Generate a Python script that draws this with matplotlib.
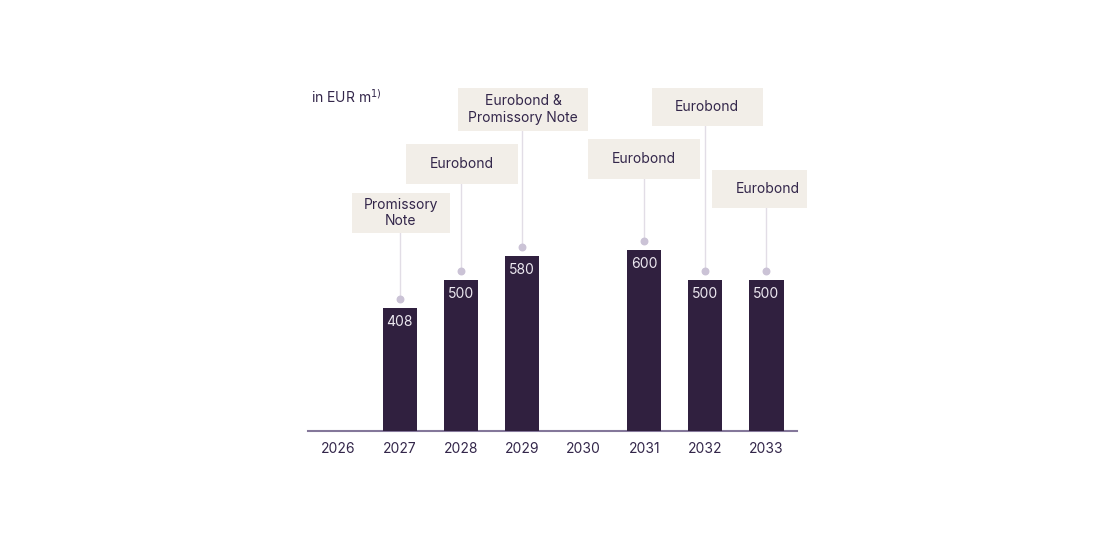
import matplotlib
matplotlib.use("Agg")
import matplotlib.pyplot as plt
from matplotlib.patches import Rectangle

years = ["2026", "2027", "2028", "2029", "2030", "2031", "2032", "2033"]
values = [0, 408, 500, 580, 0, 600, 500, 500]
instruments = ["", "Promissory\nNote", "Eurobond", "Eurobond &\nPromissory Note", "",
               "Eurobond", "Eurobond", "Eurobond"]
unit_label = "in EUR m$^{1)}$"

# layout: label boxes in pixel coordinates (left, top, right, bottom), top-left origin
box_px = {1: (352, 193, 450, 233), 2: (406, 144, 518, 184), 3: (458, 88, 588, 131),
          5: (588, 139, 700, 179), 6: (652, 88, 763, 126), 7: (712, 170, 807, 208)}
text_cx = {1: 401, 2: 462, 3: 523, 5: 644, 6: 707, 7: 768}

W, H = 1120, 560
plt.rcParams['font.family'] = ['Inter', 'DejaVu Sans']
fig = plt.figure(figsize=(W / 100, H / 100), dpi=100)
fig.patch.set_facecolor("white")

ax_left, ax_right, base_y = 308, 797, 431
px_per_unit = 0.3015
ymax = 1100
ax_top = base_y - ymax * px_per_unit
ax = fig.add_axes([ax_left / W, (H - base_y) / H, (ax_right - ax_left) / W, (base_y - ax_top) / H])
ax.set_xlim(-0.5, 7.5)
ax.set_ylim(0, ymax)
ax.patch.set_alpha(0)

bar_color = "#30203f"
text_color = "#33264a"
x = list(range(len(years)))
ax.bar(x, values, width=0.56, color=bar_color, zorder=3)

for s in ["top", "right", "left"]:
    ax.spines[s].set_visible(False)
ax.spines["bottom"].set_color("#84779a")
ax.spines["bottom"].set_linewidth(1.5)
ax.set_yticks([])
ax.set_xticks(x)
ax.set_xticklabels(years, fontsize=10, color=text_color)
ax.tick_params(axis="x", length=0, pad=8)

def px2fig(px, py):
    return px / W, (H - py) / H

for i, v in enumerate(values):
    if v <= 0:
        continue
    ax.text(i, v - 46, str(v), ha="center", va="center", color="#ece8f0", fontsize=10, zorder=4)
    dot_v = v + 30
    ax.scatter([i], [dot_v], s=22, color="#cbc3d6", zorder=4, clip_on=False)
    l, t, r, b = box_px[i]
    b_val = (base_y - b) / px_per_unit
    ax.plot([i, i], [dot_v, b_val], color="#e2dde6", lw=1, zorder=2, clip_on=False)
    fx, fy = px2fig(l, b)
    fw, fh = (r - l) / W, (b - t) / H
    fig.patches.append(Rectangle((fx, fy), fw, fh, transform=fig.transFigure,
                                 facecolor="#f2eee8", edgecolor="none", zorder=1))
    cx, cy = px2fig(text_cx[i], (t + b) / 2)
    fig.text(cx, cy, instruments[i], ha="center", va="center", fontsize=10,
             color=text_color, linespacing=1.25)

tx, ty = px2fig(311, 97)
fig.text(tx, ty, unit_label, ha="left", va="center", fontsize=10, color=text_color)

fig.savefig("out.png", dpi=100, facecolor="white")
